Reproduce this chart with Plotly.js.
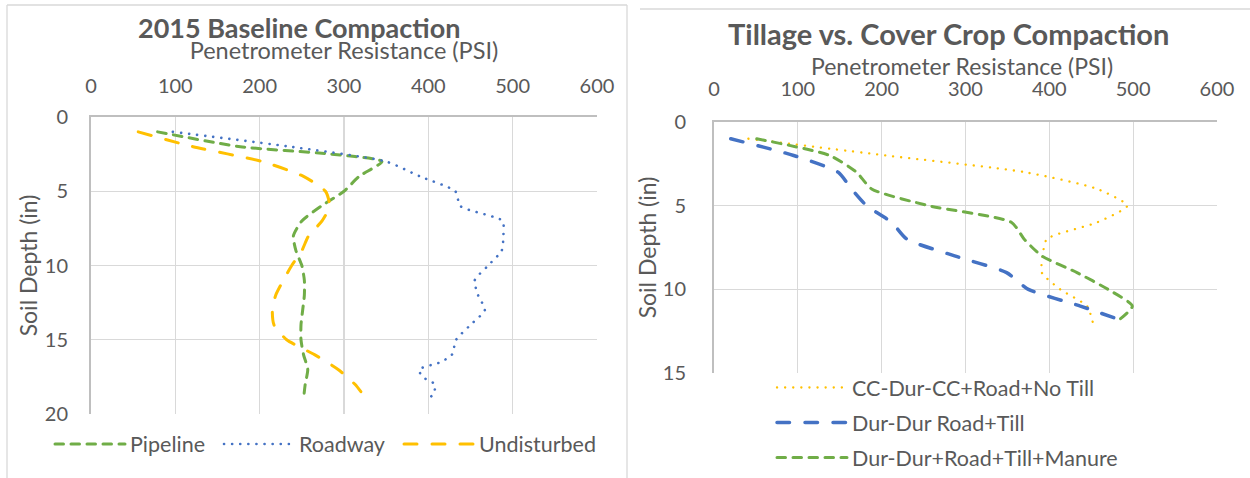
<!DOCTYPE html>
<html><head><meta charset="utf-8">
<script src="https://cdn.plot.ly/plotly-3.0.1.min.js"></script>
<style>
html,body{margin:0;padding:0;background:#fff;}
#chart{width:1250px;height:478px;}
path.js-line{stroke-linecap:round;}
</style></head><body><div id="chart"></div>
<script>
// ---- Left chart: 2015 Baseline Compaction ----
const pipelineDepth = [1,2,2.5,3,4,5,6,7,8,9,10,11,12,13,14,15,16,17,18,19];
const pipelinePsi   = [79,177,285,345,318,300,273,250,240,243,250,253,253,251,249,249,252,257,254,252];
const roadwayDepth  = [1,2,3,4,5,6,7,8,9,10,11,12,13,14,15,16,16.5,17,17.5,18,18.5,19];
const roadwayPsi    = [97,236,350,390,432,438,488,489,487,471,455,459,467,450,433,428,415,389,393,408,407,401];
const undistDepth   = [1,2,3,4,5,6,7,8,9,10,11,12,13,14,15,16,17,18,18.5];
const undistPsi     = [56,121,203,252,278,283,274,258,250,238,228,219,215,217,232,265,293,313,320];

// ---- Right chart: Tillage vs. Cover Crop Compaction ----
const rightDepth    = [1,2,3,4,5,6,7,8,9,10,11,12];
const ccNoTillPsi   = [41,205,371,457,493,457,397,392,391,413,445,452];
const durTillPsi    = [20,95,148,164,182,212,230,287,349,375,437,494];
const durManurePsi  = [51,138,170,188,256,355,370,391,433,470,499,479];

const leftTitle  = '2015 Baseline Compaction';
const rightTitle = 'Tillage vs. Cover Crop Compaction';
const xTitle = 'Penetrometer Resistance (PSI)';
const yTitle = 'Soil Depth (in)';

const GREEN = '#70AD47', BLUE = '#4472C4', GOLD = '#FFC000';
const FONT = 'Lato, "Open Sans", sans-serif';
const TXT = '#595959';

const traces = [
  {x: pipelinePsi, y: pipelineDepth, name: 'Pipeline', mode: 'lines', xaxis: 'x', yaxis: 'y', legendwidth: 84,
   line: {color: GREEN, width: 3, dash: '8.5px,7.5px', shape: 'spline', smoothing: 0.6}, legend: 'legend'},
  {x: roadwayPsi, y: roadwayDepth, name: 'Roadway', mode: 'lines', xaxis: 'x', yaxis: 'y', legendwidth: 95,
   line: {color: BLUE, width: 2.6, dash: '0.1px,8px', shape: 'spline', smoothing: 0.6}, legend: 'legend'},
  {x: undistPsi, y: undistDepth, name: 'Undisturbed', mode: 'lines', xaxis: 'x', yaxis: 'y',
   line: {color: GOLD, width: 3, dash: '13px,15px', shape: 'spline', smoothing: 0.6}, legend: 'legend'},
  {x: ccNoTillPsi, y: rightDepth, name: 'CC-Dur-CC+Road+No Till', mode: 'lines', xaxis: 'x2', yaxis: 'y2',
   line: {color: GOLD, width: 2.3, dash: '0.1px,8px', shape: 'spline', smoothing: 0.6}, legend: 'legend2', legendgroup: 'a'},
  {x: durTillPsi, y: rightDepth, name: 'Dur-Dur Road+Till', mode: 'lines', xaxis: 'x2', yaxis: 'y2',
   line: {color: BLUE, width: 3.5, dash: '12.5px,15.5px', shape: 'spline', smoothing: 0.6}, legend: 'legend2', legendgroup: 'b'},
  {x: durManurePsi, y: rightDepth, name: 'Dur-Dur+Road+Till+Manure', mode: 'lines', xaxis: 'x2', yaxis: 'y2',
   line: {color: GREEN, width: 3, dash: '8.5px,7.5px', shape: 'spline', smoothing: 0.6}, legend: 'legend2', legendgroup: 'c'}
];

const W = 1250, H = 478;
const px = v => v / W, py = v => 1 - v / H;

const xaxisBase = {
  range: [0, 600], dtick: 100, side: 'top', showgrid: true, gridcolor: '#D9D9D9', gridwidth: 1.3,
  showline: true, linecolor: '#BFBFBF', linewidth: 2, zeroline: false, ticks: '',
  tickfont: {family: FONT, size: 20, color: TXT}, fixedrange: true
};
const yaxisBase = {
  dtick: 5, showgrid: true, gridcolor: '#D9D9D9', gridwidth: 1.3,
  showline: true, linecolor: '#BFBFBF', linewidth: 2, zeroline: false, ticks: '',
  tickfont: {family: FONT, size: 20, color: TXT}, fixedrange: true
};

const layout = {
  width: W, height: H, margin: {l: 0, r: 0, t: 0, b: 0},
  paper_bgcolor: '#fff', plot_bgcolor: '#fff', showlegend: true,
  font: {family: FONT, color: TXT},
  xaxis: Object.assign({}, xaxisBase, {domain: [px(91), px(597)], anchor: 'y', ticklabelstandoff: 14,
    title: {text: xTitle, font: {family: FONT, size: 23.5, color: TXT}, standoff: 7}}),
  yaxis: Object.assign({}, yaxisBase, {domain: [py(414), py(117)], range: [20, 0], anchor: 'x', ticklabelstandoff: 17,
    title: {text: yTitle, font: {family: FONT, size: 23, color: TXT}, standoff: 1}}),
  xaxis2: Object.assign({}, xaxisBase, {domain: [px(714), px(1217)], anchor: 'y2', ticklabelstandoff: 16,
    title: {text: '', font: {family: FONT, size: 24, color: TXT}}}),
  yaxis2: Object.assign({}, yaxisBase, {domain: [py(373), py(122)], range: [15, 0], anchor: 'x2', ticklabelstandoff: 22,
    title: {text: yTitle, font: {family: FONT, size: 23, color: TXT}, standoff: 0}}),
  legend: {orientation: 'h', x: px(50), y: py(444), xanchor: 'left', yanchor: 'middle',
    font: {family: FONT, size: 21.5, color: TXT}, itemwidth: 70, bgcolor: 'rgba(0,0,0,0)'},
  legend2: {orientation: 'v', x: px(772), y: 0, xanchor: 'left', yanchor: 'bottom',
    font: {family: FONT, size: 21.5, color: TXT}, itemwidth: 70, tracegroupgap: 4, traceorder: 'grouped', bgcolor: 'rgba(0,0,0,0)'},
  annotations: [
    {text: '<b>' + leftTitle + '</b>', xref: 'paper', yref: 'paper', x: px(299), y: py(27.5), xanchor: 'center', yanchor: 'middle',
     showarrow: false, font: {family: FONT, size: 27, color: TXT}},
    {text: '<b>' + rightTitle + '</b>', xref: 'paper', yref: 'paper', x: px(948), y: py(33), xanchor: 'center', yanchor: 'middle',
     showarrow: false, font: {family: FONT, size: 29, color: TXT}},
    {text: xTitle, xref: 'paper', yref: 'paper', x: px(962), y: py(66), xanchor: 'center', yanchor: 'middle',
     showarrow: false, font: {family: FONT, size: 23, color: TXT}}
  ],
  shapes: [
    {type: 'line', xref: 'paper', yref: 'paper', x0: px(7), x1: px(627), y0: py(5), y1: py(5), line: {color: '#D9D9D9', width: 1.3}},
    {type: 'line', xref: 'paper', yref: 'paper', x0: px(7), x1: px(7), y0: py(5), y1: py(478), line: {color: '#D9D9D9', width: 1.3}},
    {type: 'line', xref: 'paper', yref: 'paper', x0: px(627), x1: px(627), y0: py(5), y1: py(478), line: {color: '#D9D9D9', width: 1.3}},
    {type: 'line', xref: 'paper', yref: 'paper', x0: px(640), x1: px(1250), y0: py(9), y1: py(9), line: {color: '#D9D9D9', width: 1.3}}
  ]
};

Plotly.newPlot('chart', traces, layout, {displayModeBar: false, staticPlot: true});
</script></body></html>
